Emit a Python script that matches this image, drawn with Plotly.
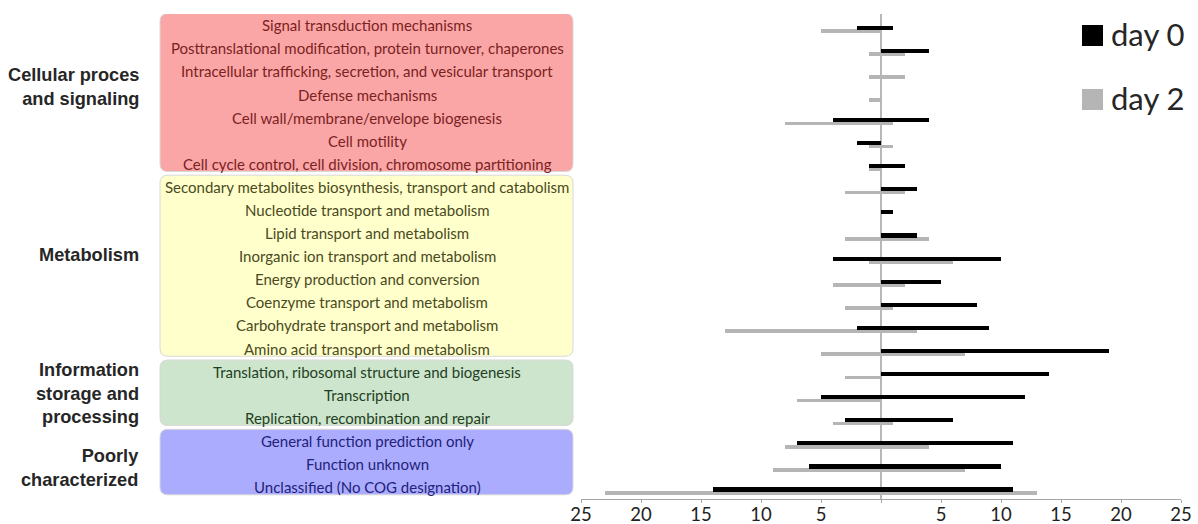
import plotly.graph_objects as go

# COG functional categories, top to bottom
categories = [
    "Signal transduction mechanisms",
    "Posttranslational modification, protein turnover, chaperones",
    "Intracellular trafficking, secretion, and vesicular transport",
    "Defense mechanisms",
    "Cell wall/membrane/envelope biogenesis",
    "Cell motility",
    "Cell cycle control, cell division, chromosome partitioning",
    "Secondary metabolites biosynthesis, transport and catabolism",
    "Nucleotide transport and metabolism",
    "Lipid transport and metabolism",
    "Inorganic ion transport and metabolism",
    "Energy production and conversion",
    "Coenzyme transport and metabolism",
    "Carbohydrate transport and metabolism",
    "Amino acid transport and metabolism",
    "Translation, ribosomal structure and biogenesis",
    "Transcription",
    "Replication, recombination and repair",
    "General function prediction only",
    "Function unknown",
    "Unclassified (No COG designation)",
]

# gene counts on the right (positive) and left (negative) side of the axis
day0_right = [1, 4, 0, 0, 4, 0, 2, 3, 1, 3, 10, 5, 8, 9, 19, 14, 12, 6, 11, 10, 11]
day0_left = [2, 0, 0, 0, 4, 2, 1, 0, 0, 0, 4, 0, 0, 2, 0, 0, 5, 3, 7, 6, 14]
day2_right = [0, 2, 2, 0, 1, 1, 0, 2, 0, 4, 6, 2, 1, 3, 7, 0, 0, 1, 4, 7, 13]
day2_left = [5, 1, 1, 1, 8, 1, 1, 3, 0, 3, 1, 4, 3, 13, 5, 3, 7, 4, 8, 9, 23]

# functional groups: label lines, first row, last row, fill, text colour, label centre (px)
groups = [
    (["Cellular proces", "and signaling"], 0, 6, "#FBA6A6", "#7A2222", 87),
    (["Metabolism"], 7, 14, "#FFFFCC", "#4A4A22", 255),
    (["Information", "storage and", "processing"], 15, 17, "#CDE4CD", "#233F23", 393),
    (["Poorly", "characterized"], 18, 20, "#ACACFE", "#22227A", 468),
]

tick_vals = list(range(-25, 30, 5))
tick_text = [str(abs(v)) if v != 0 else "" for v in tick_vals]

W, H = 1198, 524
ML, MR, MT, MB = 581, 17, 14, 25
PW, PH = W - ML - MR, H - MT - MB


def px_x(x):
    return (x - ML) / PW


def px_y(y):
    return (H - MB - y) / PH


BLACK = "#000000"
GREY = "#B5B5B5"

fig = go.Figure()

# grey (day 2) bars underneath, black (day 0) bars on top
for vals, sign in ((day2_left, -1), (day2_right, 1)):
    fig.add_trace(go.Bar(
        y=categories, x=[sign * v for v in vals], orientation="h",
        marker=dict(color=GREY, line=dict(width=0)),
        width=0.16, offset=-0.005, name="day 2", showlegend=False,
    ))
for vals, sign in ((day0_left, -1), (day0_right, 1)):
    fig.add_trace(go.Bar(
        y=categories, x=[sign * v for v in vals], orientation="h",
        marker=dict(color=BLACK, line=dict(width=0)),
        width=0.18, offset=-0.16, name="day 0", showlegend=False,
    ))

shapes = []
annotations = []

# rounded boxes holding the category names
rx = 8 / PW
ry = 0.33
x0, x1 = px_x(160), px_x(573)
for lines, first, last, fill, tcol, cy in groups:
    top, bot = first - 0.68, last + 0.16
    path = (
        f"M {x0 + rx},{top} L {x1 - rx},{top} Q {x1},{top} {x1},{top + ry} "
        f"L {x1},{bot - ry} Q {x1},{bot} {x1 - rx},{bot} "
        f"L {x0 + rx},{bot} Q {x0},{bot} {x0},{bot - ry} "
        f"L {x0},{top + ry} Q {x0},{top} {x0 + rx},{top} Z"
    )
    shapes.append(dict(type="path", path=path, xref="paper", yref="y",
                       fillcolor=fill, line=dict(color="#D8D8D8", width=1),
                       layer="below"))
    for i in range(first, last + 1):
        annotations.append(dict(
            x=px_x(367), y=categories[i], xref="paper", yref="y",
            text=categories[i], showarrow=False, xanchor="center",
            yanchor="middle", yshift=4,
            font=dict(family="Lato", size=15, color=tcol),
        ))
    annotations.append(dict(
        x=px_x(141), y=px_y(cy), xref="paper", yref="paper",
        text="<br>".join(lines), showarrow=False, xanchor="right",
        yanchor="middle", align="right",
        font=dict(family="Liberation Sans", size=18.2, color="#262626",
                  weight="bold"),
    ))

# legend
for color, y_top, label in ((BLACK, 25, "day 0"), (GREY, 89, "day 2")):
    shapes.append(dict(type="rect", xref="paper", yref="paper",
                       x0=px_x(1082), x1=px_x(1103),
                       y0=px_y(y_top + 21), y1=px_y(y_top),
                       fillcolor=color, line=dict(width=0)))
    annotations.append(dict(
        x=px_x(1109), y=px_y(y_top + 9), xref="paper", yref="paper",
        text=label, showarrow=False, xanchor="left", yanchor="middle",
        font=dict(family="Lato", size=31, color="#262626"),
    ))

fig.update_layout(
    width=W, height=H,
    margin=dict(l=ML, r=MR, t=MT, b=MB, pad=0, autoexpand=False),
    paper_bgcolor="white", plot_bgcolor="white",
    barmode="overlay", bargap=0,
    shapes=shapes, annotations=annotations,
    showlegend=False,
    xaxis=dict(
        range=[-25, 25], tickvals=tick_vals, ticktext=tick_text,
        showgrid=False, zeroline=True, zerolinecolor="#B8B8B8",
        zerolinewidth=2, showline=True, linecolor="#A6A6A6", linewidth=1,
        ticks="outside", ticklen=3, tickcolor="#A6A6A6",
        ticklabelstandoff=-4,
        tickfont=dict(family="Lato", size=18.5, color="#222222"),
        automargin=False, fixedrange=True,
    ),
    yaxis=dict(
        categoryorder="array", categoryarray=categories,
        range=[20.34, -0.66], showticklabels=False, showgrid=False,
        zeroline=False, showline=False, ticks="", automargin=False,
        fixedrange=True,
    ),
)

fig.write_html("out.html")
